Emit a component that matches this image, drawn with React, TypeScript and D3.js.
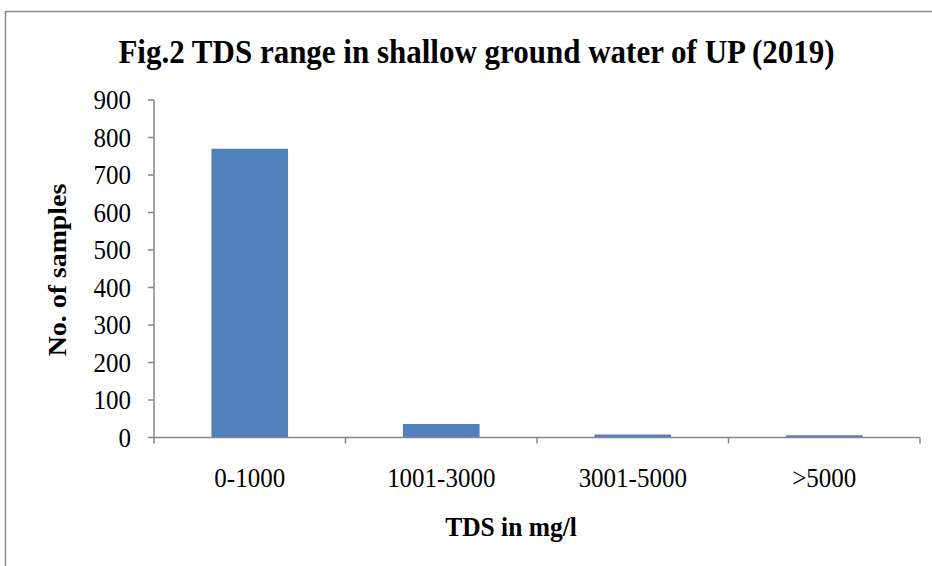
import React, { useEffect, useRef } from 'react';
import * as d3 from 'd3';

const categories = ['0-1000', '1001-3000', '3001-5000', '>5000'];
const samples = [770, 36, 8, 6];
const yTicks = [0, 100, 200, 300, 400, 500, 600, 700, 800, 900];

const App: React.FC = () => {
  const ref = useRef<SVGSVGElement>(null);

  useEffect(() => {
    const width = 932;
    const height = 566;
    const font = '"Liberation Serif", "Times New Roman", serif';
    const axisColor = '#868686';
    const stretch = 1.08; // reference text is slightly taller than wide

    const svg = d3.select(ref.current);
    svg.selectAll('*').remove();
    svg.attr('width', width).attr('height', height);

    svg.append('rect')
      .attr('x', 5.5).attr('y', 11.5)
      .attr('width', 960).attr('height', 600)
      .attr('fill', '#fff')
      .attr('stroke', axisColor)
      .attr('stroke-width', 1.5);

    const plot = { left: 154, right: 920, top: 100, bottom: 437.5 };

    const x = d3.scaleBand<string>()
      .domain(categories)
      .range([plot.left, plot.right])
      .paddingInner(0.6)
      .paddingOuter(0.3);

    const y = d3.scaleLinear()
      .domain([0, 900])
      .range([plot.bottom, plot.top]);

    // bars
    svg.selectAll('.bar')
      .data(categories)
      .enter().append('rect')
      .attr('class', 'bar')
      .attr('x', d => x(d) as number)
      .attr('y', (d, i) => y(samples[i]))
      .attr('width', x.bandwidth())
      .attr('height', (d, i) => plot.bottom - y(samples[i]))
      .attr('fill', '#4f81bd');

    // y axis
    svg.append('line')
      .attr('x1', plot.left).attr('x2', plot.left)
      .attr('y1', plot.top).attr('y2', plot.bottom)
      .attr('stroke', axisColor).attr('stroke-width', 1.5);

    yTicks.forEach(t => {
      svg.append('line')
        .attr('x1', plot.left - 6).attr('x2', plot.left)
        .attr('y1', y(t)).attr('y2', y(t))
        .attr('stroke', axisColor).attr('stroke-width', 1.5);
      svg.append('text')
        .attr('transform', `translate(${plot.left - 23}, ${y(t) + 9}) scale(1, ${stretch})`)
        .attr('text-anchor', 'end')
        .style('font-family', font)
        .style('font-size', '25px')
        .text(t);
    });

    // x axis
    svg.append('line')
      .attr('x1', plot.left).attr('x2', plot.right)
      .attr('y1', plot.bottom).attr('y2', plot.bottom)
      .attr('stroke', axisColor).attr('stroke-width', 1.5);

    const step = x.step();
    d3.range(categories.length + 1).forEach(i => {
      const xx = plot.left + i * step;
      svg.append('line')
        .attr('x1', xx).attr('x2', xx)
        .attr('y1', plot.bottom).attr('y2', plot.bottom + 6)
        .attr('stroke', axisColor).attr('stroke-width', 1.5);
    });

    svg.selectAll('.xlabel')
      .data(categories)
      .enter().append('text')
      .attr('class', 'xlabel')
      .attr('transform', d => `translate(${(x(d) as number) + x.bandwidth() / 2}, 487) scale(1, ${stretch})`)
      .attr('text-anchor', 'middle')
      .style('font-family', font)
      .style('font-size', '25px')
      .text(d => d);

    // titles
    svg.append('text')
      .attr('transform', `translate(476.5, 63) scale(1, ${stretch})`)
      .attr('text-anchor', 'middle')
      .style('font-family', font)
      .style('font-size', '31px')
      .style('font-weight', 'bold')
      .text('Fig.2 TDS range in shallow ground water of UP (2019)');

    svg.append('text')
      .attr('transform', `translate(66, 270) rotate(-90) scale(${stretch}, 1)`)
      .attr('text-anchor', 'middle')
      .style('font-family', font)
      .style('font-size', '25.8px')
      .style('font-weight', 'bold')
      .text('No. of samples');

    svg.append('text')
      .attr('transform', `translate(511, 536) scale(1, ${stretch})`)
      .attr('text-anchor', 'middle')
      .style('font-family', font)
      .style('font-size', '25.5px')
      .style('font-weight', 'bold')
      .text('TDS in mg/l');
  }, []);

  return <svg ref={ref} style={{ position: 'absolute', left: 0, top: 0 }}></svg>;
};

export default App;
